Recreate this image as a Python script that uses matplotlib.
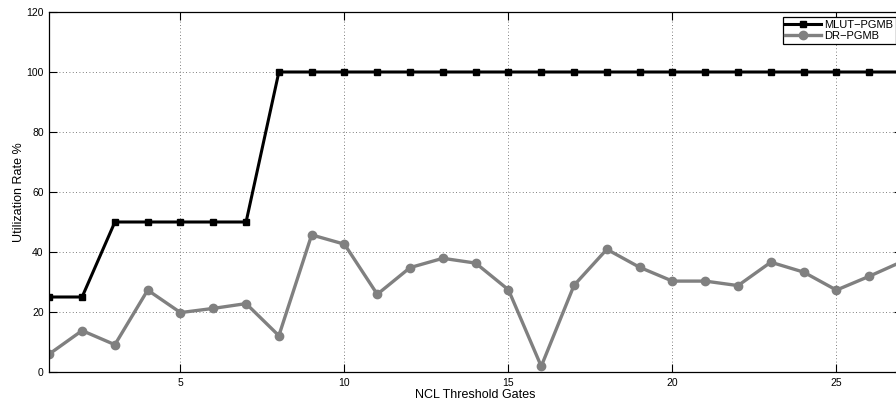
import numpy as np
import matplotlib.pyplot as plt

plt.rcParams['font.family'] = ['Liberation Sans', 'DejaVu Sans']

# NCL threshold gate counts
gates = list(range(1, 28))

# utilization (%) of each scheme
mlut_pgmb = [25, 25, 50, 50, 50, 50, 50, 100, 100, 100, 100, 100, 100, 100,
             100, 100, 100, 100, 100, 100, 100, 100, 100, 100, 100, 100, 100]
dr_pgmb = [6.0, 13.8, 9.1, 27.3, 19.8, 21.2, 22.8, 12.1, 45.7, 42.6, 25.9,
           34.8, 37.9, 36.3, 27.4, 1.9, 28.9, 40.9, 34.9, 30.3, 30.3, 28.8,
           36.6, 33.3, 27.3, 31.9, 36.8]

xticks = [5, 10, 15, 20, 25]
yticks = [0, 20, 40, 60, 80, 100, 120]

fig = plt.figure(figsize=(8.96, 4.07), dpi=100)
ax = fig.add_axes([49.3 / 896, 35 / 407, 852.7 / 896, 360 / 407])

ax.plot(gates, mlut_pgmb, color='black', lw=2.2, marker='s', ms=5,
        label='MLUT\u2212PGMB')
ax.plot(gates, dr_pgmb, color='#808080', lw=2.4, marker='o', ms=6,
        label='DR\u2212PGMB')

ax.set_xlim(1, 27)
ax.set_ylim(0, 120)
ax.set_xticks(xticks)
ax.set_yticks(yticks)
ax.tick_params(direction='in', top=True, right=True, length=6, width=0.8,
               labelsize=7.5, pad=4)
ax.grid(True, linestyle=(0, (1, 3)), color='#555555', lw=0.6)
for s in ax.spines.values():
    s.set_linewidth(0.9)

ax.set_xlabel('NCL Threshold Gates', fontsize=9, labelpad=1)
ax.set_ylabel('Utilization Rate %', fontsize=9, labelpad=1)

leg = ax.legend(loc='upper right', bbox_to_anchor=(1 - 6 / 852.7, 1 - 5 / 360),
                borderaxespad=0, fontsize=8, fancybox=False, framealpha=1,
                edgecolor='black', handlelength=3.2, handletextpad=0.3,
                borderpad=0.25, labelspacing=0.1)
leg.get_frame().set_linewidth(0.9)

fig.savefig('out.png', dpi=100)
